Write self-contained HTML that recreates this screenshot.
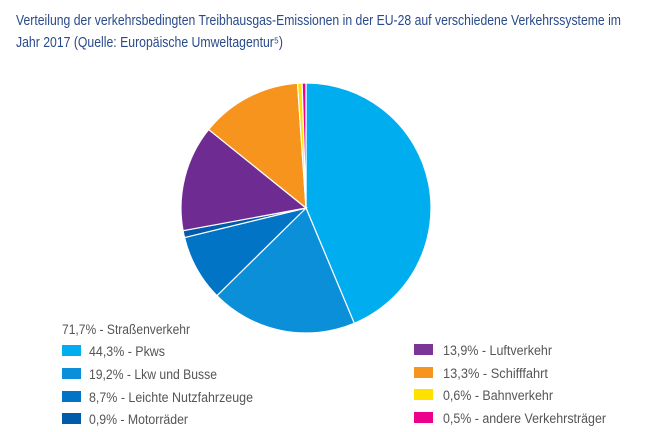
<!DOCTYPE html>
<html><head><meta charset="utf-8"><style>
html,body{margin:0;padding:0;background:#fff;width:650px;height:432px;overflow:hidden}
svg{display:block}
text{font-family:"Liberation Sans",sans-serif}
</style></head><body>
<svg width="650" height="432" viewBox="0 0 650 432" xmlns="http://www.w3.org/2000/svg">
<text x="16" y="25" font-size="14.5" fill="#2a4a8a" textLength="605" lengthAdjust="spacingAndGlyphs">Verteilung der verkehrsbedingten Treibhausgas-Emissionen in der EU-28 auf verschiedene Verkehrssysteme im</text>
<text x="16" y="47" font-size="14.5" fill="#2a4a8a" textLength="267" lengthAdjust="spacingAndGlyphs">Jahr 2017 (Quelle: Europäische Umweltagentur⁵)</text>
<g id="pie"></g>
<g font-size="13.5" fill="#555">
<text x="62" y="334" textLength="128" lengthAdjust="spacingAndGlyphs">71,7% - Straßenverkehr</text>
<rect x="62" y="345" width="19" height="11" fill="#00aeef"/><text x="89" y="356" textLength="76" lengthAdjust="spacingAndGlyphs">44,3% - Pkws</text>
<rect x="62" y="368" width="19" height="11" fill="#0a8fd8"/><text x="89" y="379" textLength="128" lengthAdjust="spacingAndGlyphs">19,2% - Lkw und Busse</text>
<rect x="62" y="391" width="19" height="11" fill="#0274c6"/><text x="89" y="402" textLength="164" lengthAdjust="spacingAndGlyphs">8,7% - Leichte Nutzfahrzeuge</text>
<rect x="62" y="413" width="19" height="11" fill="#005baa"/><text x="89" y="424" textLength="99" lengthAdjust="spacingAndGlyphs">0,9% - Motorräder</text>
<rect x="414" y="344" width="19" height="11" fill="#7b3596"/><text x="443" y="355" textLength="109" lengthAdjust="spacingAndGlyphs">13,9% - Luftverkehr</text>
<rect x="414" y="367" width="19" height="11" fill="#f7941d"/><text x="443" y="378" textLength="105" lengthAdjust="spacingAndGlyphs">13,3% - Schifffahrt</text>
<rect x="414" y="389" width="19" height="11" fill="#ffe100"/><text x="443" y="400" textLength="110" lengthAdjust="spacingAndGlyphs">0,6% - Bahnverkehr</text>
<rect x="414" y="412" width="19" height="11" fill="#ec008c"/><text x="443" y="423" textLength="163" lengthAdjust="spacingAndGlyphs">0,5% - andere Verkehrsträger</text>
</g>
</svg>
<script>
var d=[[44.3,"#00aeef"],[19.2,"#0a8fd8"],[8.7,"#0274c6"],[0.9,"#005baa"],[13.9,"#6e2c92"],[13.3,"#f7941d"],[0.6,"#ffe100"],[0.5,"#ec008c"]];
var tot=0;d.forEach(function(x){tot+=x[0]});
var cx=306,cy=208,r=125,a=0,g=document.getElementById("pie"),s="";
d.forEach(function(x){var b=a+x[0]/tot*2*Math.PI;
var x1=cx+r*Math.sin(a),y1=cy-r*Math.cos(a),x2=cx+r*Math.sin(b),y2=cy-r*Math.cos(b);
s+='<path d="M'+cx+','+cy+'L'+x1+','+y1+'A'+r+','+r+' 0 '+((b-a)>Math.PI?1:0)+' 1 '+x2+','+y2+'Z" fill="'+x[1]+'" stroke="#fff" stroke-width="1.2"/>';a=b;});
g.innerHTML=s;
</script>
</body></html>
